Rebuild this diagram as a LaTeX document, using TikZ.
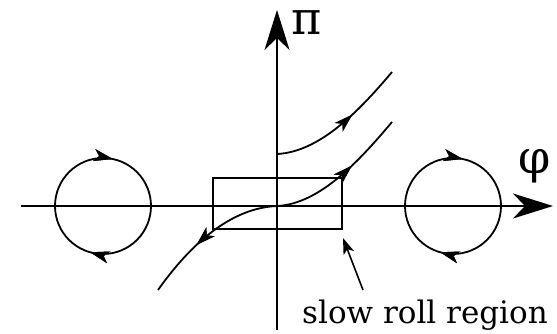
\documentclass[tikz,border=0pt]{standalone}
\usepackage{fontspec}
\setmainfont{DejaVu Serif}
\usetikzlibrary{arrows.meta, decorations.markings}

\begin{document}
\begin{tikzpicture}[x=1pt, y=-1pt,
        every node/.style={font=\fontsize{31}{36}\selectfont},
        greek/.style={font=\fontsize{46}{50}\selectfont, inner sep=0pt, anchor=base},
        axis/.style={line width=1.9pt, -{Stealth[length=40pt, width=25pt, inset=12pt]}},
        orbit/.style={line width=1.8pt},
        fwd/.style={postaction={decorate}, decoration={markings,
            mark=at position #1 with {\arrow{Stealth[length=19pt, width=12pt, inset=5pt]}}}},
        bwd/.style={postaction={decorate}, decoration={markings,
            mark=at position #1 with {\arrowreversed{Stealth[length=19pt, width=12pt, inset=5pt]}}}}]
                \useasboundingbox (0,0) rectangle (557,334);
                % Ejes
                \coordinate (O) at (277,206);
                \coordinate (phiL) at (21,206);
                \coordinate (phiR) at (553,206);
                \coordinate (piB) at (277,330);
                \coordinate (piT) at (277,10);
                \draw[axis] (phiL) -- (phiR);
                \draw[axis] (piB) -- (piT);
                \node[greek] (pilab) at (307,35) {π};
                \node[greek] (philab) at (535,173) {φ};
                % Orbitas cerradas
                \foreach \cx in {103,453} {
                    \draw[orbit, fwd=0.283, fwd=0.793]
                        (\cx-48,206) arc[start angle=180, end angle=540, radius=48];
                }
                % Region de slow roll
                \draw[line width=1.6pt] (213,178) rectangle (342,229);
                % Trayectorias
                \coordinate (upA) at (277,154);
                \coordinate (upB) at (392,72);
                \draw[orbit, fwd=0.6] (upA) .. controls (320,152) and (360,110) .. (upB);
                \coordinate (srA) at (158,290);
                \coordinate (srB) at (392,122);
                \draw[orbit, bwd=0.2, fwd=0.8]
                    (srA) .. controls (190,245) and (230,208) .. (O)
                          .. controls (320,204) and (360,160) .. (srB);
                % Etiqueta
                \node[anchor=base] (srlab) at (425,323) {slow roll region};
                \coordinate (srtip) at (343,238);
                \draw[line width=1.6pt, -{Stealth[length=16pt, width=11pt, inset=4pt]}] (363,290) -- (srtip);
            \end{tikzpicture}
\end{document}
